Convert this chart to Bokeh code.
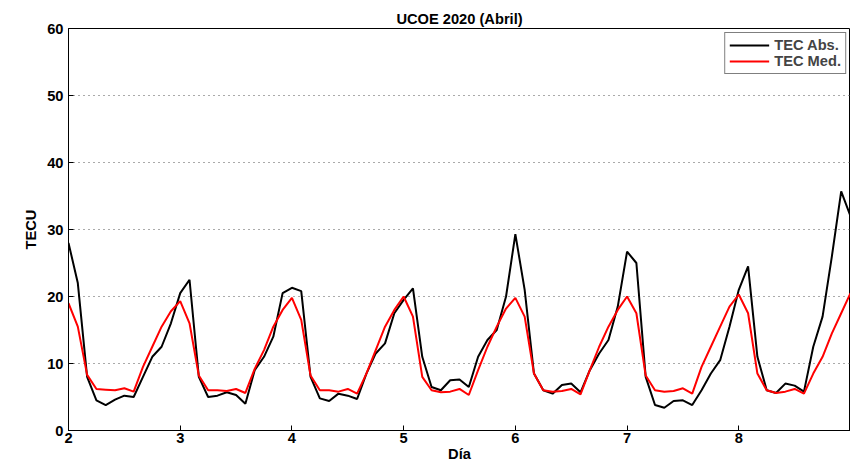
import numpy as np
from bokeh.embed import file_html
from bokeh.resources import INLINE
from bokeh.plotting import figure
from bokeh.models import Range1d, FixedTicker, Legend, LegendItem

# 2-hourly samples from day 2 to day 9
dia = [2 + i / 12 for i in range(85)]

tec_abs = [
    28, 22, 8, 4.5, 3.8, 4.6, 5.2, 5.0, 8, 11, 12.5, 16,
    20.5, 22.5, 8, 5, 5.2, 5.7, 5.3, 4, 9, 11, 14, 20.5,
    21.3, 20.8, 8, 4.8, 4.4, 5.5, 5.2, 4.7, 8.5, 11.5, 13, 17.5,
    19.5, 21.2, 11, 6.5, 6.0, 7.5, 7.6, 6.5, 11, 13.5, 15, 20,
    29.3, 21, 8.5, 6, 5.5, 6.8, 7, 5.7, 9, 11.5, 13.5, 18.5,
    26.7, 25, 8, 3.8, 3.4, 4.4, 4.5, 3.8, 6, 8.5, 10.5, 15.5,
    21, 24.5, 11, 6, 5.6, 7, 6.7, 5.8, 12.5, 17, 26, 35.7,
    32,
]

tec_med = [
    19, 15.5, 8.3, 6.2, 6.1, 6.0, 6.3, 5.8, 9.5, 12.5, 15.5, 17.8,
    19.3, 16, 8.2, 6.0, 6.0, 5.9, 6.2, 5.6, 9.2, 12, 15.5, 18,
    19.8, 16.5, 8.2, 6.0, 6.0, 5.8, 6.2, 5.5, 8.5, 12, 15.5, 18,
    20, 17, 8, 6, 5.7, 5.8, 6.2, 5.3, 9, 12.5, 15.5, 18.2,
    19.8, 17, 8.5, 6, 5.8, 5.9, 6.2, 5.4, 9, 12.5, 15.5, 18,
    20, 17.5, 8.2, 6, 5.8, 5.9, 6.3, 5.5, 9.5, 12.5, 15.5, 18.5,
    20.3, 17.5, 8.5, 6, 5.6, 5.8, 6.2, 5.5, 8.5, 11, 14.5, 17.5,
    20.5,
]

x_ticks = [2, 3, 4, 5, 6, 7, 8]
y_ticks = [0, 10, 20, 30, 40, 50, 60]

p = figure(width=850, height=464, output_backend="svg", toolbar_location=None,
           x_range=Range1d(2, 9), y_range=Range1d(0, 60),
           min_border_left=68, min_border_right=0, min_border_top=28, min_border_bottom=16)
p.title.text = "UCOE 2020 (Abril)"
p.title.align = "center"
p.title.text_font = "Liberation Sans"
p.title.text_font_size = "11pt"
p.title.text_color = "black"
p.title.offset = 0
p.title.standoff = 4

r1 = p.line(dia, tec_abs, color="black", line_width=2)
r2 = p.line(dia, tec_med, color="red", line_width=2)

p.outline_line_color = "black"
p.xgrid.grid_line_color = None
p.ygrid.grid_line_color = "#555555"
p.ygrid.grid_line_dash = "1 4"
for ax in (p.xaxis, p.yaxis):
    ax.major_label_text_font = "Liberation Sans"
    ax.major_label_text_font_style = "bold"
    ax.major_label_text_font_size = "11pt"
    ax.major_label_text_color = "black"
    ax.axis_label_text_font = "Liberation Sans"
    ax.axis_label_text_font_style = "bold"
    ax.axis_label_text_font_size = "11pt"
    ax.axis_label_text_color = "black"
    ax.major_tick_in = 5
    ax.major_tick_out = 0
    ax.minor_tick_line_color = None
    ax.axis_line_color = "black"
p.xaxis.ticker = FixedTicker(ticks=x_ticks)
p.yaxis.ticker = FixedTicker(ticks=y_ticks)
p.xaxis.axis_label = "Día"
p.yaxis.axis_label = "TECU"
p.xaxis.major_label_standoff = 2
p.xaxis.axis_label_standoff = 0

legend = Legend(items=[LegendItem(label="TEC Abs.", renderers=[r1]),
                       LegendItem(label="TEC Med.", renderers=[r2])],
                location="top_right", border_line_color="black",
                label_text_font="Liberation Sans", label_text_font_style="bold",
                label_text_font_size="11pt", spacing=0, padding=4, margin=4,
                label_height=14, glyph_height=14, glyph_width=40)
p.add_layout(legend)

open("out.html", "w").write(file_html(p, INLINE))
